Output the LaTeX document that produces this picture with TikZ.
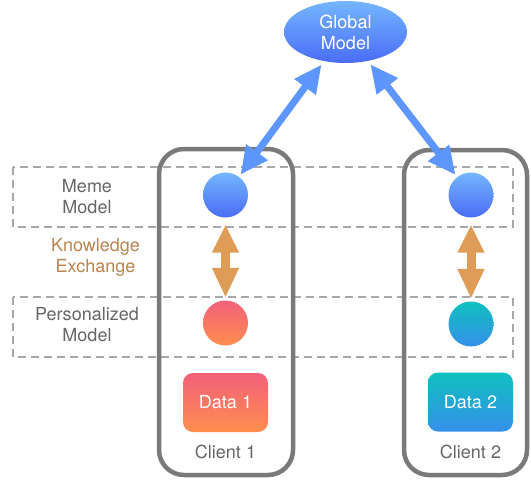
\documentclass[tikz,border=0pt]{standalone}
\usepackage{fontspec}
\setmainfont{TeX Gyre Heros}
\usetikzlibrary{shapes.geometric,arrows.meta}
\definecolor{blueTop}{HTML}{74B6FF}
\definecolor{blueBot}{HTML}{4A6CF5}
\definecolor{pinkTop}{HTML}{F2607A}
\definecolor{orangeBot}{HTML}{FF8E4E}
\definecolor{tealTop}{HTML}{0FC0BF}
\definecolor{blueBotTwo}{HTML}{3590EA}
\definecolor{arrowBlue}{HTML}{5E96FF}
\definecolor{arrowOrange}{HTML}{DE9C57}
\definecolor{knowCol}{HTML}{B8844F}
\definecolor{labelGray}{HTML}{666666}
\definecolor{clientGray}{HTML}{7A7A7A}
\definecolor{dashGray}{HTML}{A8A8A8}
\begin{document}
\begin{tikzpicture}[x=1pt,y=-1pt,
  lbl/.style={font=\fontsize{18}{21}\selectfont, text=labelGray, align=center, inner sep=0},
  dashbox/.style={draw=dashGray, line width=2pt, dash pattern=on 8pt off 5pt},
  clientbox/.style={draw=clientGray, line width=4.5pt, rounded corners=25pt},
  ball/.style={circle, minimum size=45pt, inner sep=0pt, draw=none},
  databox/.style={rounded corners=10pt, minimum width=85pt, minimum height=59pt, inner sep=0pt,
     text=white, font=\fontsize{18}{21}\selectfont},
  bluearrow/.style={draw=arrowBlue, line width=7pt,
     {Triangle[length=28pt,width=25pt]}-{Triangle[length=28pt,width=25pt]},
     shorten <=4pt, shorten >=2.5pt},
  orangearrow/.style={draw=arrowOrange, line width=9pt,
     {Triangle[length=28pt,width=25pt]}-{Triangle[length=30pt,width=25pt]},
     shorten <=7pt, shorten >=2.5pt}
]
\useasboundingbox (0,0) rectangle (531,480);
% dashed bands
\draw[dashbox] (13,167) rectangle (513,227);
\draw[dashbox] (13,297) rectangle (513,357);
% client boxes
\draw[clientbox] (159,149) rectangle (293,475);
\draw[clientbox] (404,150) rectangle (527,475);
% global model
\node[ellipse, minimum width=123pt, minimum height=62pt, inner sep=0pt,
      top color=blueTop, bottom color=blueBot, text=white,
      font=\fontsize{18}{21}\selectfont, align=center] (g) at (345.5,32) {Global\\Model};
% client 1
\node[ball, top color=blueTop, bottom color=blueBot] (m1) at (225.5,195) {};
\node[ball, top color=pinkTop, bottom color=orangeBot] (p1) at (225.5,323) {};
\node[databox, top color=pinkTop, bottom color=orangeBot] (d1) at (225.5,402.5) {Data 1};
\node[lbl] (c1) at (225.5,452) {Client 1};
% client 2
\node[ball, top color=blueTop, bottom color=blueBot] (m2) at (471,195) {};
\node[ball, top color=tealTop, bottom color=blueBotTwo] (p2) at (471,324) {};
\node[databox, top color=tealTop, bottom color=blueBotTwo] (d2) at (470.5,402) {Data 2};
\node[lbl] (c2) at (470.5,452) {Client 2};
% labels
\node[lbl] (mm) at (87,197) {Meme\\Model};
\node[lbl, text=knowCol] (ke) at (95.5,257) {Knowledge\\Exchange};
\node[lbl] (pm) at (87,325) {Personalized\\Model};
% arrows
\draw[bluearrow] (g) -- (m1);
\draw[bluearrow] (g) -- (m2);
\draw[orangearrow] (m1) -- (p1);
\draw[orangearrow] (m2) -- (p2);
\end{tikzpicture}
\end{document}
